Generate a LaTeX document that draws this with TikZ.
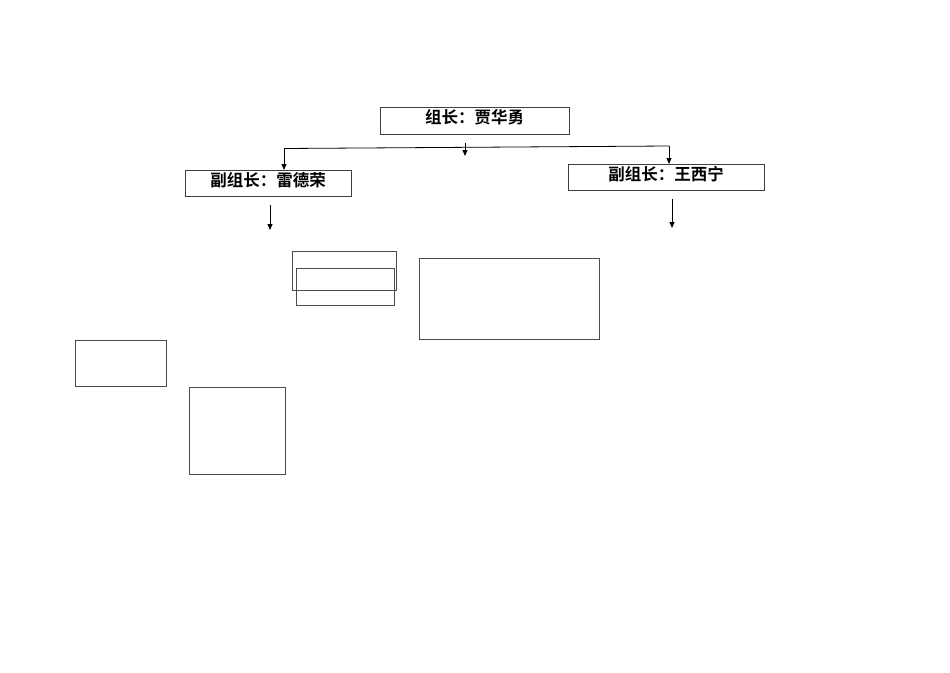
\documentclass[tikz,border=0pt]{standalone}
\usepackage{fontspec}
\newfontfamily\cjk{Noto Sans CJK SC}[BoldFont={Noto Sans CJK SC Bold}]
\usetikzlibrary{arrows.meta}
\begin{document}
\begin{tikzpicture}[x=1pt,y=-1pt,
  titlebox/.style={draw=black!75,line width=0.7pt,inner sep=0pt,text depth=8pt,font=\cjk\bfseries\fontsize{16.5}{18}\selectfont},
  emptybox/.style={draw=black!70,line width=0.8pt,inner sep=0pt},
  conn/.style={line width=0.8pt,-{Triangle[width=5pt,length=6pt]}}]
\useasboundingbox (0,0) rectangle (950,672);
\node[titlebox,minimum width=189pt,minimum height=27pt] (lead) at (474.5,120.5) {组长：贾华勇};
\node[titlebox,minimum width=166pt,minimum height=26pt] (dl) at (268,183) {副组长：雷德荣};
\node[titlebox,minimum width=196pt,minimum height=26pt] (dr) at (666,177) {副组长：王西宁};
\coordinate (jl) at (284,148.5);
\coordinate (jr) at (669,146);
\draw[line width=0.8pt] (jl) -- (jr);
\draw[conn] (jl) -- (284,170);
\draw[conn] (jr) -- (669,164);
\coordinate (ma) at (465,143);
\coordinate (mb) at (465,156);
\draw[conn] (ma) -- (mb);
\coordinate (la) at (270,205);
\coordinate (lb) at (270,230);
\draw[conn] (la) -- (lb);
\coordinate (ra) at (672,199);
\coordinate (rb) at (672,228);
\draw[conn] (ra) -- (rb);
\node[emptybox,minimum width=104pt,minimum height=39pt] (ba) at (344,270.5) {};
\node[emptybox,minimum width=98pt,minimum height=37pt] (bb) at (345,286.5) {};
\node[emptybox,minimum width=180pt,minimum height=81pt] (bc) at (509,298.5) {};
\node[emptybox,minimum width=91pt,minimum height=46pt] (bd) at (120.5,363) {};
\node[emptybox,minimum width=96pt,minimum height=87pt] (be) at (237,430.5) {};
\end{tikzpicture}
\end{document}
